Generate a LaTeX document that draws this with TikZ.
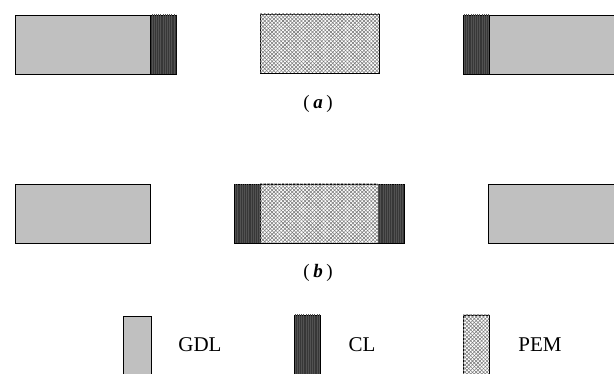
\documentclass[tikz,border=0pt]{standalone}
\usepackage{fontspec}
\setmainfont{Liberation Serif}
\usetikzlibrary{patterns.meta}
\definecolor{gdlgray}{RGB}{192,192,192}
\definecolor{cldark}{RGB}{55,55,55}
\definecolor{clline}{RGB}{82,82,82}
\definecolor{pemline}{RGB}{120,120,120}
\tikzset{
  gdl/.style={fill=gdlgray, draw=black, line width=0.9pt},
  cl/.style={fill=cldark, draw=black, line width=0.9pt,
    postaction={pattern={Lines[angle=90,distance=2.2pt,line width=0.6pt]}, pattern color=clline}},
  pem/.style={fill=white, draw=black, line width=0.9pt,
    postaction={pattern={Lines[angle=45,distance=2.6pt,line width=0.55pt]}, pattern color=pemline},
    postaction={pattern={Lines[angle=-45,distance=2.6pt,line width=0.55pt]}, pattern color=pemline}},
  caption/.style={font=\fontsize{19}{22}\selectfont},
  legendtext/.style={font=\fontsize{21}{24}\selectfont, anchor=center}
}
\newcommand{\panellabel}[1]{(\hspace{3.5pt}\textbf{\textit{#1}}\hspace{3.5pt})}
\begin{document}
\begin{tikzpicture}[x=1pt,y=-1pt]
  \useasboundingbox (0,0) rectangle (614,374);
  % row (a): GDL|CL  PEM  CL|GDL
  \draw[gdl] (15,15) rectangle (150,74);
  \draw[cl] (150,15) rectangle (176,74);
  \draw[pem] (260,14) rectangle (379,73);
  \draw[cl] (463,15) rectangle (489,74);
  \draw[gdl] (489,15) rectangle (617,74);
  \node[caption] (capa) at (318,104) {\panellabel{a}};
  % row (b): GDL  CL|PEM|CL  GDL
  \draw[gdl] (15,184) rectangle (150,243);
  \draw[cl] (234,184) rectangle (260,243);
  \draw[pem] (260,184) rectangle (378,243);
  \draw[cl] (378,184) rectangle (404,243);
  \draw[gdl] (488,184) rectangle (617,243);
  \node[caption] (capb) at (318,273) {\panellabel{b}};
  % legend
  \draw[gdl] (123,316) rectangle (151,376);
  \node[legendtext] (lgdl) at (200,345) {GDL};
  \draw[cl] (294,315) rectangle (320,376);
  \node[legendtext] (lcl) at (362,345) {CL};
  \draw[pem] (463,315) rectangle (489,376);
  \node[legendtext] (lpem) at (540,345) {PEM};
\end{tikzpicture}
\end{document}
